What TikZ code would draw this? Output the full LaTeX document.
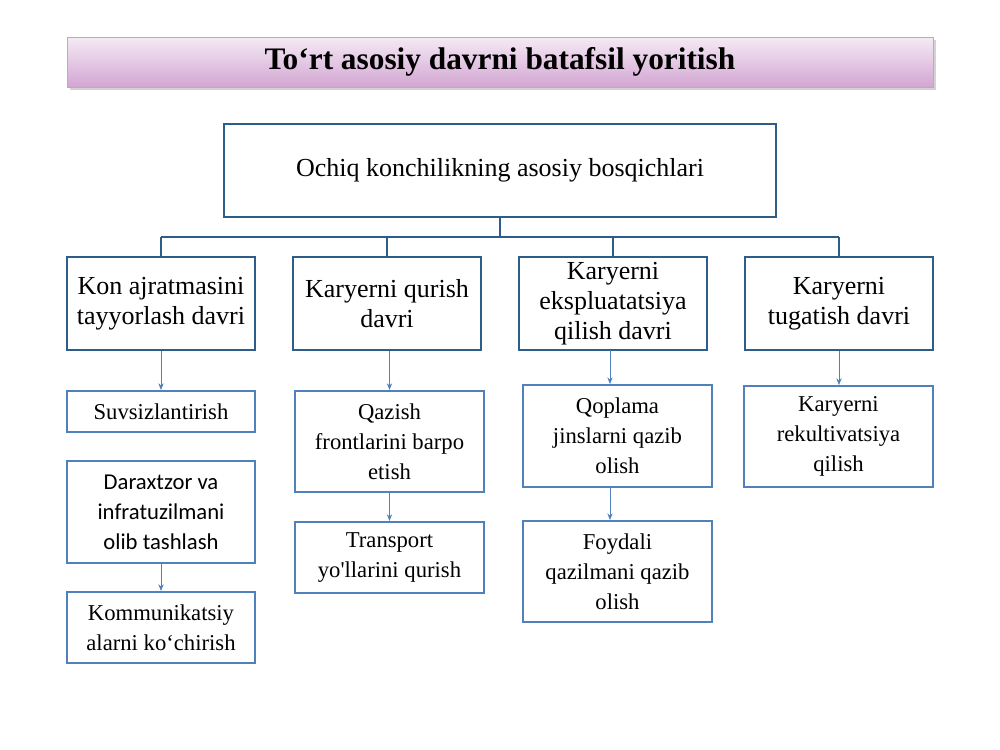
\documentclass[tikz,border=0pt]{standalone}
\usepackage{fontspec}
\setmainfont{Liberation Serif}
\newfontfamily\calib{Carlito}
\usetikzlibrary{arrows.meta,shadows}
\definecolor{bord}{HTML}{2F5D8A}
\definecolor{bx}{HTML}{4F81BD}
\definecolor{ar}{HTML}{4F81BD}
\tikzset{
 lvl/.style={draw=bord,line width=2pt,align=center,font=\fontsize{19.5}{22.5}\selectfont},
 sub/.style={draw=bx,line width=1.6pt,align=center,font=\fontsize{17}{22.5}\selectfont},
 arr/.style={draw=ar,line width=0.6pt,-{Stealth[length=5pt,width=4pt]}},
 bus/.style={draw=bord,line width=2.2pt}
}
\newcommand{\bx}[6]{\node[#1,minimum width=#4*0.75pt,minimum height=#5*0.75pt,inner sep=1pt] (#2) at (#3) {#6};}
\begin{document}
\begin{tikzpicture}[x=0.75pt,y=-0.75pt]
\useasboundingbox (0,0) rectangle (1000,750);
\node[draw=gray!60,top color=violet!8,bottom color=violet!35,drop shadow={opacity=0.35},minimum width=866*0.75pt,minimum height=50*0.75pt,font=\bfseries\fontsize{23.5}{25}\selectfont] (title) at (500,62) {To‘rt asosiy davrni batafsil yoritish};
\bx{lvl}{top}{500,170.5}{552}{93}{Ochiq konchilikning asosiy bosqichlari}
\bx{lvl}{a}{161,303.5}{188}{93}{Kon ajratmasini\\tayyorlash davri}
\bx{lvl}{b}{387,303.5}{188}{93}{Karyerni qurish\\davri}
\bx{lvl}{c}{613,303.5}{188}{93}{Karyerni\\ekspluatatsiya\\qilish davri}
\bx{lvl}{d}{839,303.5}{188}{93}{Karyerni\\tugatish davri}
\coordinate (j) at (500,237);
\draw[bus] (top.south) -- (j);
\draw[bus] (161,237) -- (839,237);
\foreach \n/\x in {a/161,b/387,c/613,d/839} \draw[bus] (\x,237) -- (\n.north);
\bx{sub}{a1}{161,411.5}{188}{41}{Suvsizlantirish}
\bx{sub}{a2}{161,512}{188}{102}{\calib Daraxtzor va\\\calib infratuzilmani\\\calib olib tashlash}
\bx{sub}{a3}{161,627.5}{188}{71}{Kommunikatsiy\\alarni ko‘chirish}
\bx{sub}{b1}{389.5,441.5}{189}{101}{Qazish\\frontlarini barpo\\etish}
\bx{sub}{b2}{389.5,557.5}{189}{71}{Transport\\yo\textquotesingle llarini qurish}
\bx{sub}{c1}{617.5,436}{189}{102}{Qoplama\\jinslarni qazib\\olish}
\bx{sub}{c2}{617.5,571.5}{189}{101}{Foydali\\qazilmani qazib\\olish}
\bx{sub}{d1}{838.5,436.5}{189}{101}{Karyerni\\rekultivatsiya\\qilish}
\draw[arr] (a.south) -- (a1.north);
\draw[arr] (a2.south) -- (a3.north);
\draw[arr] (b.south -| b1.north) -- (b1.north);
\draw[arr] (b1.south) -- (b2.north);
\draw[arr] (610,350) -- (610,384);
\draw[arr] (610,487) -- (610,520);
\draw[arr] (d.south) -- (d.south |- d1.north);
\end{tikzpicture}
\end{document}
